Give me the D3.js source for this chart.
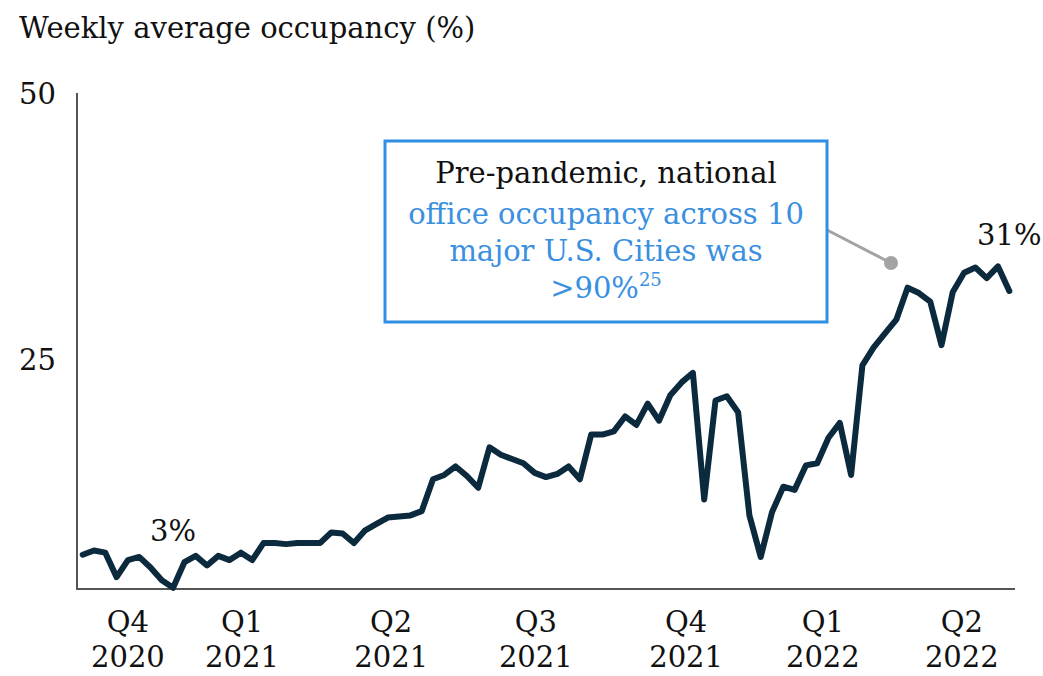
<!DOCTYPE html>
<meta charset="utf-8">
<style>
  body { margin: 0; background: #fff; }
  text { font-family: 'DejaVu Serif', serif; fill: #111; }
</style>
<script src="https://d3js.org/d3.v7.min.js"></script>
<svg width="1043" height="676"></svg>
<script>
// weekly average occupancy (%), one value per week
var occupancy = [
  6.6, 7.0, 6.8, 4.5, 6.1, 6.4, 5.4, 4.2, 3.5, 5.9,
  6.5, 5.6, 6.5, 6.1, 6.8, 6.1, 7.7, 7.7, 7.6, 7.7,
  7.7, 7.7, 8.7, 8.6, 7.7, 8.9, 9.5, 10.1, 10.2, 10.3,
  10.7, 13.7, 14.1, 14.9, 14.0, 12.9, 16.7, 16.0, 15.6, 15.2,
  14.3, 13.9, 14.2, 14.9, 13.7, 17.9, 17.9, 18.2, 19.6, 18.8,
  20.8, 19.2, 21.6, 22.8, 23.7, 11.8, 21.1, 21.5, 20.0, 10.3,
  6.4, 10.6, 13.0, 12.7, 15.0, 15.2, 17.6, 19.0, 14.1, 24.4,
  26.1, 27.4, 28.7, 31.7, 31.2, 30.4, 26.3, 31.3, 33.1, 33.6,
  32.6, 33.7, 31.4
];
var quarterLabels = ["Q4", "Q1", "Q2", "Q3", "Q4", "Q1", "Q2"];
var yearLabels = ["2020", "2021", "2021", "2021", "2021", "2022", "2022"];
var quarterWeek = [4, 14.1, 27.3, 40.1, 53.4, 65.5, 77.8];
var yTicks = [25, 50];

var svg = d3.select("svg");
var fs = "29px";

var x = d3.scaleLinear().domain([0, occupancy.length - 1]).range([82.7, 1009.3]);
var y = d3.scaleLinear().domain([0, 50]).range([625, 93]);
var axisY = 589;

// title
svg.append("text").attr("x", 19).attr("y", 38).style("font-size", fs)
  .text("Weekly average occupancy (%)");

// axes
svg.append("line").attr("x1", 77).attr("x2", 77).attr("y1", 93).attr("y2", axisY)
  .attr("stroke", "#555").attr("stroke-width", 2);
svg.append("line").attr("x1", 76).attr("x2", 1015).attr("y1", axisY).attr("y2", axisY)
  .attr("stroke", "#555").attr("stroke-width", 2);

svg.selectAll(".ytick").data(yTicks).enter().append("text")
  .attr("class", "ytick")
  .attr("x", 56).attr("y", function(d) { return y(d) + 11; })
  .attr("text-anchor", "end").style("font-size", fs)
  .text(function(d) { return d; });

var xt = svg.selectAll(".xtick").data(quarterLabels).enter().append("text")
  .attr("class", "xtick")
  .attr("text-anchor", "middle").style("font-size", fs);
xt.append("tspan")
  .attr("x", function(d, i) { return x(quarterWeek[i]); }).attr("y", 632)
  .text(function(d) { return d; });
xt.append("tspan")
  .attr("x", function(d, i) { return x(quarterWeek[i]); }).attr("y", 667)
  .text(function(d, i) { return yearLabels[i]; });

// line
var line = d3.line().x(function(d, i) { return x(i); }).y(function(d) { return y(d); });
svg.append("path").datum(occupancy).attr("d", line)
  .attr("fill", "none").attr("stroke", "#0c2a3e").attr("stroke-width", 6)
  .attr("stroke-linejoin", "round").attr("stroke-linecap", "round");

// value labels
svg.append("text").attr("x", x(8)).attr("y", 541).attr("text-anchor", "middle")
  .style("font-size", fs).text("3%");
svg.append("text").attr("x", x(82)).attr("y", 245).attr("text-anchor", "middle")
  .style("font-size", fs).text("31%");

// callout
svg.append("line").attr("x1", 827).attr("y1", 230).attr("x2", 891).attr("y2", 263)
  .attr("stroke", "#a3a3a3").attr("stroke-width", 3);
svg.append("circle").attr("cx", 891).attr("cy", 263).attr("r", 7).attr("fill", "#a3a3a3");
svg.append("rect").attr("x", 385).attr("y", 141).attr("width", 442).attr("height", 181)
  .attr("fill", "#fff").attr("stroke", "#2e8fe3").attr("stroke-width", 3);

var note = svg.append("text").attr("text-anchor", "middle").style("font-size", fs);
note.append("tspan").attr("x", 606).attr("y", 183).text("Pre-pandemic, national");
note.append("tspan").attr("x", 606).attr("y", 224).style("fill", "#3a90df")
  .text("office occupancy across 10");
note.append("tspan").attr("x", 606).attr("y", 261).style("fill", "#3a90df")
  .text("major U.S. Cities was");
var last = note.append("tspan").attr("x", 606).attr("y", 298).style("fill", "#3a90df");
last.append("tspan").text(">90%");
last.append("tspan").attr("dy", -12).style("font-size", "18px").text("25");
</script>
